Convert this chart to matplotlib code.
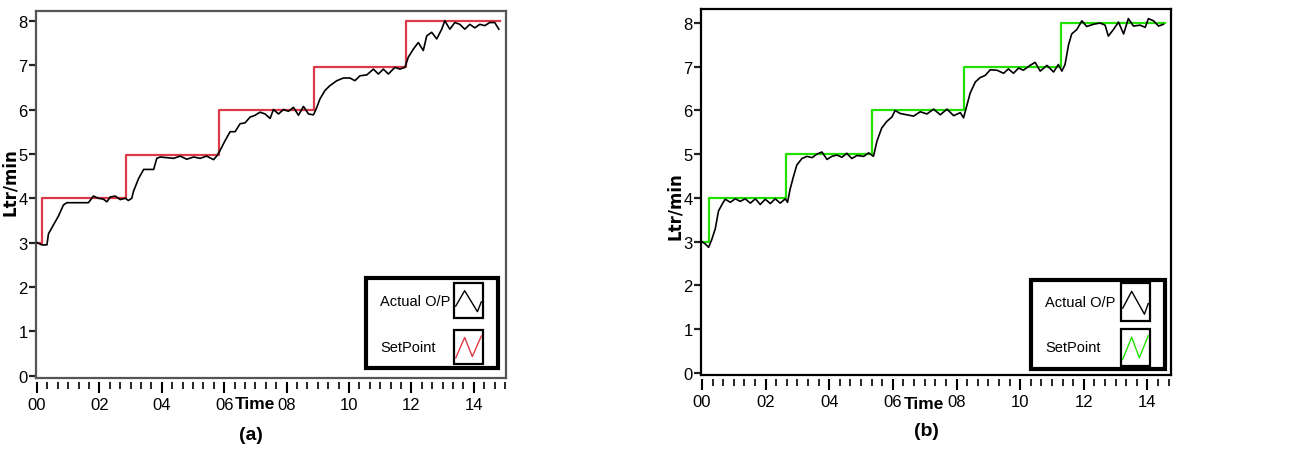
import matplotlib
matplotlib.use('Agg')
import matplotlib.pyplot as plt
import numpy as np
from matplotlib.ticker import MultipleLocator, FuncFormatter
from matplotlib.patches import Rectangle
from matplotlib.lines import Line2D

plt.rcParams['font.family'] = ['Liberation Sans', 'DejaVu Sans']

# ---- panel (a) ----
t_act_a = [0.0, 0.16, 0.32, 0.37, 0.53, 0.69, 0.85, 0.96, 1.12, 1.65, 1.81, 1.97, 2.13,
           2.24, 2.35, 2.51, 2.67, 2.83, 2.93, 3.04, 3.09, 3.26, 3.42, 3.74, 3.84, 3.95,
           4.38, 4.59, 4.80, 5.02, 5.23, 5.44, 5.66, 5.76, 5.87, 6.03, 6.19, 6.35, 6.51,
           6.67, 6.83, 6.99, 7.15, 7.31, 7.47, 7.58, 7.74, 7.90, 8.06, 8.22, 8.38, 8.54,
           8.70, 8.86, 8.94, 9.07, 9.23, 9.39, 9.61, 9.82, 10.03, 10.19, 10.35, 10.57,
           10.78, 10.94, 11.10, 11.26, 11.47, 11.63, 11.79, 11.90, 12.06, 12.22, 12.38,
           12.49, 12.65, 12.81, 12.97, 13.07, 13.23, 13.39, 13.55, 13.71, 13.87, 14.03,
           14.19, 14.35, 14.51, 14.67, 14.80]
v_act_a = [3.0, 2.95, 2.95, 3.2, 3.4, 3.6, 3.85, 3.9, 3.9, 3.9, 4.05, 4.0, 3.98,
           3.92, 4.03, 4.05, 3.97, 4.0, 3.95, 4.0, 4.15, 4.45, 4.65, 4.65, 4.9, 4.93,
           4.9, 4.95, 4.88, 4.93, 4.9, 4.95, 4.87, 4.95, 5.08, 5.3, 5.5, 5.5, 5.68,
           5.7, 5.83, 5.87, 5.94, 5.9, 5.8, 6.0, 5.9, 6.0, 5.96, 6.05, 5.87, 6.07,
           5.9, 5.88, 6.0, 6.24, 6.43, 6.54, 6.65, 6.71, 6.71, 6.65, 6.76, 6.78,
           6.91, 6.8, 6.91, 6.8, 6.95, 6.91, 6.95, 7.18, 7.36, 7.51, 7.33,
           7.66, 7.74, 7.59, 7.81, 8.0, 7.81, 7.96, 7.92, 7.81, 7.92, 7.84,
           7.92, 7.89, 7.96, 7.96, 7.81]
t_sp_a = [0.0, 0.16, 2.85, 5.84, 8.88, 11.81, 14.83]
v_sp_a = [3.0, 4.01, 4.97, 6.0, 6.95, 8.0, 8.0]

# ---- panel (b) ----
t_act_b = [0.0, 0.10, 0.21, 0.31, 0.42, 0.52, 0.63, 0.73, 0.89, 1.05, 1.20, 1.36, 1.52,
           1.68, 1.83, 1.99, 2.15, 2.30, 2.46, 2.62, 2.69, 2.77, 2.88, 2.98, 3.14, 3.30,
           3.46, 3.61, 3.77, 3.93, 4.08, 4.24, 4.40, 4.55, 4.71, 4.87, 5.08, 5.24, 5.39,
           5.50, 5.65, 5.81, 5.97, 6.07, 6.23, 6.44, 6.65, 6.86, 7.07, 7.28, 7.49, 7.70,
           7.91, 8.12, 8.22, 8.32, 8.43, 8.59, 8.74, 8.90, 9.06, 9.27, 9.48, 9.63, 9.79,
           9.95, 10.10, 10.31, 10.47, 10.63, 10.84, 11.05, 11.20, 11.31, 11.41, 11.52,
           11.62, 11.78, 11.94, 12.09, 12.30, 12.51, 12.67, 12.77, 12.93, 13.09, 13.25,
           13.40, 13.56, 13.77, 13.93, 14.03, 14.19, 14.35, 14.50]
v_act_b = [3.0, 2.95, 2.87, 3.05, 3.3, 3.7, 3.85, 3.97, 3.9, 3.98, 3.92, 3.98, 3.88,
           3.98, 3.85, 3.97, 3.87, 3.98, 3.88, 3.98, 3.9, 4.2, 4.5, 4.75, 4.9, 4.95,
           4.92, 5.0, 5.05, 4.88, 4.95, 4.98, 4.93, 5.02, 4.9, 4.97, 4.95, 5.03, 4.95,
           5.3, 5.6, 5.75, 5.85, 6.0, 5.93, 5.9, 5.87, 5.97, 5.92, 6.03, 5.9, 6.03,
           5.88, 5.95, 5.83, 6.1, 6.4, 6.65, 6.75, 6.8, 6.93, 6.92, 6.85, 6.95, 6.85,
           6.97, 6.92, 7.03, 7.1, 6.9, 7.03, 6.88, 7.05, 6.9, 7.05, 7.5,
           7.75, 7.85, 8.05, 7.92, 7.97, 8.0, 7.95, 7.7, 7.85, 8.02, 7.75,
           8.1, 7.93, 7.95, 7.9, 8.1, 8.05, 7.93, 7.97]
t_sp_b = [0.0, 0.23, 2.64, 5.35, 8.25, 11.27, 14.55]
v_sp_b = [3.0, 4.0, 5.0, 6.0, 7.0, 8.0, 8.0]

fig = plt.figure(figsize=(13, 4.52), dpi=100)


def px(x, y):
    # pixel -> figure fraction
    return x / 1300, 1 - y / 452


def panel(rect, t_act, v_act, t_sp, v_sp, sp_color, xlim, ylim, frame_color,
          tag, tag_xy, time_xy, ylab_xy, legend_px):
    ax = fig.add_axes(rect)
    ax.plot(t_sp, v_sp, color=sp_color, lw=1.6, drawstyle='steps-post', zorder=2)
    ax.plot(t_act, v_act, color='black', lw=1.2, zorder=3)
    ax.set_xlim(*xlim)
    ax.set_ylim(*ylim)
    for s in ax.spines.values():
        s.set_color(frame_color)
        s.set_linewidth(1.6)
    ax.set_yticks(range(0, 9))
    ax.tick_params(axis='y', direction='out', length=5, width=1.6, labelsize=12,
                   pad=1, color='#222222')
    ax.tick_params(axis='x', which='both', bottom=False, labelbottom=False)

    sec = ax.secondary_xaxis(-0.01)
    sec.spines['bottom'].set_visible(False)
    sec.set_xticks(np.arange(0, 15, 2))
    sec.xaxis.set_minor_locator(MultipleLocator(1 / 3))
    sec.xaxis.set_major_formatter(FuncFormatter(lambda v, p: '%02d' % int(round(v))))
    sec.tick_params(axis='x', which='major', direction='out', length=8, width=1.5,
                    labelsize=12, pad=3)
    sec.tick_params(axis='x', which='minor', direction='out', length=5, width=1.2)

    fig.text(*px(*time_xy), 'Time', ha='center', va='center', fontsize=12.5,
             fontweight='bold')
    fig.text(*px(*ylab_xy), 'Ltr/min', rotation=90, ha='center', va='center',
             fontsize=12, fontweight='bold', family=['DejaVu Sans'])
    fig.text(*px(*tag_xy), tag, ha='center', va='center', fontsize=14,
             fontweight='bold')

    # legend box, LabVIEW style
    x0, y0, x1, y1, sx0, sx1, sy, tx = legend_px
    bx, by = px(x0, y1)
    fig.add_artist(Rectangle((bx, by), (x1 - x0) / 1300, (y1 - y0) / 452,
                             transform=fig.transFigure, fill=True, fc='white',
                             ec='black', lw=3, zorder=5))
    names = ['Actual O/P', 'SetPoint']
    cols = ['black', sp_color]
    shapes = [([0, 0.35, 0.85, 1.0], [0.3, 0.85, 0.1, 0.45]),
              ([0, 0.35, 0.65, 1.0], [0.1, 0.85, 0.15, 0.9])]
    for (ya, yb), name, c, (zx, zy) in zip(sy, names, cols, shapes):
        fx, fy = px(sx0, yb)
        w, h = (sx1 - sx0) / 1300, (yb - ya) / 452
        fig.add_artist(Rectangle((fx, fy), w, h, transform=fig.transFigure,
                                 fill=True, fc='white', ec='black', lw=1.6, zorder=6))
        fig.add_artist(Line2D([fx + w * 0.06 + v * w * 0.88 for v in zx],
                              [fy + h * 0.1 + v * h * 0.8 for v in zy],
                              transform=fig.transFigure, color=c, lw=1.0, zorder=7))
        fig.text(*px(tx, (ya + yb) / 2), name, ha='left', va='center',
                 fontsize=10.5, zorder=7)
    return ax


panel([36 / 1300, 1 - 379 / 452, 470 / 1300, 367 / 452], t_act_a, v_act_a,
      t_sp_a, v_sp_a, '#dc3a48', (-0.03, 15.03), (-0.05, 8.22), '#555555',
      '(a)', (251, 436), (255, 405), (10, 182),
      (366, 279, 498, 369, 454, 483, [(284, 319), (331, 365)], 380))
panel([701 / 1300, 1 - 376 / 452, 470 / 1300, 366 / 452], t_act_b, v_act_b,
      t_sp_b, v_sp_b, '#22e000', (-0.03, 14.74), (-0.05, 8.32), 'black',
      '(b)', (926, 432), (924, 405), (675, 206),
      (1031, 281, 1165, 370, 1121, 1150, [(284, 322), (330, 367)], 1045))

fig.savefig('out.png', dpi=100)
